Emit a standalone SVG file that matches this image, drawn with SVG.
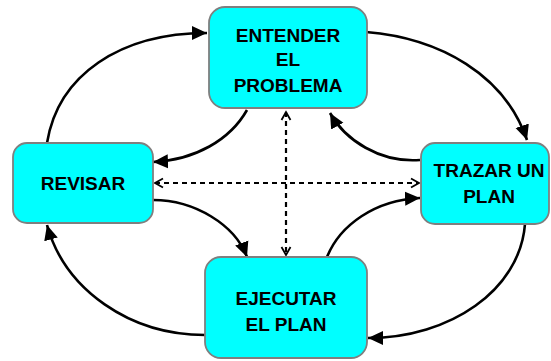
<svg xmlns="http://www.w3.org/2000/svg" width="551" height="361" viewBox="0 0 551 361">
<style>
.box{fill:#00FFFF;stroke:#7f7f7f;stroke-width:1.8}
.lbl{font-family:"Liberation Sans",Arial,sans-serif;font-weight:bold;font-size:19px;fill:#000;text-anchor:middle}
.arc{fill:none;stroke:#000;stroke-width:2.6;marker-end:url(#ah)}
.dash{fill:none;stroke:#000;stroke-width:2.2;stroke-dasharray:5,4;marker-start:url(#oh);marker-end:url(#oh)}
</style>
<defs>
<marker id="ah" markerUnits="userSpaceOnUse" markerWidth="16" markerHeight="16" viewBox="0 0 16 16" refX="15" refY="8" orient="auto">
<path d="M0,1 L15,8 L0,15 z" fill="#000"/>
</marker>
<marker id="oh" markerUnits="userSpaceOnUse" markerWidth="12" markerHeight="12" viewBox="0 0 12 12" refX="10" refY="6" orient="auto-start-reverse">
<path d="M2,1.5 L10,6 L2,10.5" fill="none" stroke="#000" stroke-width="1.8"/>
</marker>
</defs>
<g id="connectors">
<path class="arc" d="M47,143 C58,75 120,33 207,33"/>
<path class="arc" d="M366,32 C440,38 505,75 527,140"/>
<path class="arc" d="M525,224 C520,290 450,338 368,338"/>
<path class="arc" d="M205,335 C130,335 65,290 47,225"/>
<path class="arc" d="M247,110 C230,140 195,160 153,162"/>
<path class="arc" d="M420,160 C380,163 345,140 330,113"/>
<path class="arc" d="M153,200 C195,200 235,225 247,257"/>
<path class="arc" d="M327,257 C340,225 375,200 420,198"/>
<path class="dash" d="M286,112 L286,255"/>
<path class="dash" d="M155,183 L419,183"/>
</g>
<g id="entender">
<rect class="box" x="209" y="7" width="158" height="101" rx="16"/>
<text class="lbl" x="288" y="42">ENTENDER</text>
<text class="lbl" x="288" y="66">EL</text>
<text class="lbl" x="288" y="92">PROBLEMA</text>
</g>
<g id="revisar">
<rect class="box" x="13" y="143" width="140" height="80" rx="14"/>
<text class="lbl" x="83" y="190">REVISAR</text>
</g>
<g id="trazar">
<rect class="box" x="421" y="143" width="128" height="81" rx="14"/>
<text class="lbl" x="489" y="177">TRAZAR UN</text>
<text class="lbl" x="489" y="203">PLAN</text>
</g>
<g id="ejecutar">
<rect class="box" x="205" y="257" width="162" height="101" rx="16"/>
<text class="lbl" x="286" y="305">EJECUTAR</text>
<text class="lbl" x="286" y="331">EL PLAN</text>
</g>
</svg>
